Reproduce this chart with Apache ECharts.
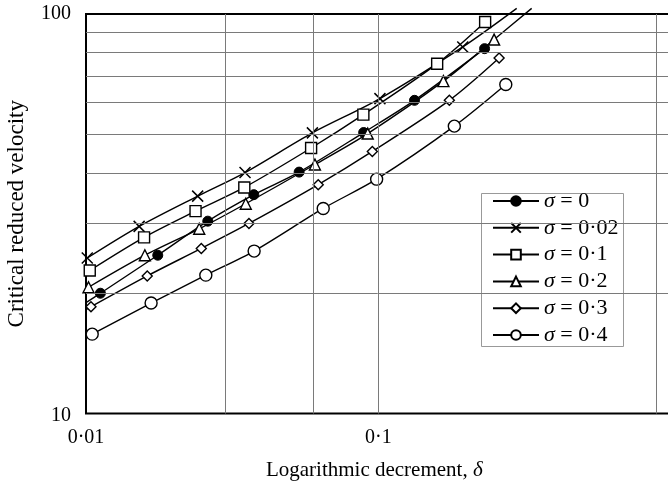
<!DOCTYPE html>
<html>
<head>
<meta charset="utf-8">
<script src="https://cdn.jsdelivr.net/npm/echarts@6/dist/echarts.min.js"></script>
<style>
  html, body { margin: 0; padding: 0; background: #fff; }
  #chart { width: 668px; height: 481px; }
</style>
</head>
<body>
<div id="chart"></div>
<script>
const FONT = '"Liberation Serif", "Times New Roman", serif';

// Logarithmic decrement δ (x) and critical reduced velocity (y) for each σ
const delta0   = [0.0112, 0.0176, 0.0261, 0.0375, 0.0536, 0.0891, 0.133, 0.231];
const vel0     = [20.0, 24.9, 30.3, 35.3, 40.2, 50.5, 60.8, 81.9];
const delta002 = [0.0101, 0.0152, 0.0241, 0.0350, 0.0595, 0.1013, 0.1945];
const vel002   = [24.5, 29.4, 35.0, 40.1, 50.4, 61.4, 82.7];
const delta01  = [0.0103, 0.0158, 0.0237, 0.0348, 0.0589, 0.0889, 0.159, 0.232];
const vel01    = [22.8, 27.6, 32.1, 36.8, 46.2, 56.0, 75.1, 95.5];
const delta02  = [0.0102, 0.0159, 0.0244, 0.0352, 0.0607, 0.0920, 0.167, 0.249];
const vel02    = [20.7, 24.9, 29.0, 33.5, 42.0, 50.2, 67.9, 86.3];
const delta03  = [0.0104, 0.0162, 0.0248, 0.0361, 0.0623, 0.0954, 0.175, 0.259];
const vel03    = [18.5, 22.1, 25.9, 29.9, 37.4, 45.3, 60.8, 77.6];
const delta04  = [0.0105, 0.0167, 0.0257, 0.0376, 0.0648, 0.0987, 0.182, 0.273];
const vel04    = [15.8, 18.9, 22.2, 25.5, 32.6, 38.6, 52.4, 66.6];

// Ends of the fitted curves that run past the plotted points
const lead0   = [0.01, 18.95];
const lead03  = [0.01, 18.2];
const lead04  = [0.01, 15.5];
const tail002 = [0.2975, 103.3];
const tail02  = [0.3347, 103.3];

// Legend labels
const names = ['σ = 0', 'σ = 0·02', 'σ = 0·1', 'σ = 0·2', 'σ = 0·3', 'σ = 0·4'];

// Grid lines
const hGrid = [20, 30, 40, 50, 60, 70, 80, 90];
const vGrid = [0.03, 0.06, 0.1, 0.89];

function curve(xs, ys, lead, tail) {
  const d = xs.map((x, i) => [x, ys[i]]);
  if (lead) d.unshift({ value: lead, symbol: 'none' });
  if (tail) d.push({ value: tail, symbol: 'none' });
  return d;
}

const openMark = { color: '#fff', borderColor: '#000', borderWidth: 1.4 };
function mkSeries(name, data, symbol, size, itemStyle) {
  return {
    name, type: 'line', data, symbol, symbolSize: size,
    smooth: 0.3, clip: false, z: 3,
    lineStyle: { color: '#000', width: 1.4 },
    itemStyle,
    emphasis: { disabled: true }
  };
}

const legendRich = {
  i: { fontFamily: FONT, fontSize: 22, fontStyle: 'italic', color: '#000' },
  r: { fontFamily: FONT, fontSize: 22, color: '#000' }
};

const chart = echarts.init(document.getElementById('chart'), null, { renderer: 'canvas' });

chart.setOption({
  animation: false,
  backgroundColor: '#fff',
  textStyle: { fontFamily: FONT, color: '#000' },
  grid: {
    left: 86, top: 14, width: 584.6, height: 399.5,
    outerBoundsMode: 'none', containLabel: false,
    show: true, borderColor: '#000', borderWidth: 2, backgroundColor: 'transparent'
  },
  xAxis: {
    type: 'log', logBase: 10, min: 0.01, max: 1,
    axisLine: { show: false }, axisTick: { show: false }, splitLine: { show: false },
    axisLabel: {
      color: '#000', fontFamily: FONT, fontSize: 20, margin: 14, showMaxLabel: false,
      formatter: v => {
        const p = Math.round(Math.log10(v));
        return p === -2 ? '0·01' : p === -1 ? '0·1' : '';
      }
    },
    name: 'Logarithmic decrement, {i|δ}',
    nameLocation: 'middle', nameGap: 46,
    nameTextStyle: {
      color: '#000', fontFamily: FONT, fontSize: 21, padding: [0, 8, 0, 0],
      rich: { i: { fontFamily: FONT, fontSize: 21, fontStyle: 'italic', color: '#000' } }
    }
  },
  yAxis: {
    type: 'log', logBase: 10, min: 10, max: 100,
    axisLine: { show: false }, axisTick: { show: false }, splitLine: { show: false },
    axisLabel: {
      color: '#000', fontFamily: FONT, fontSize: 20, margin: 15,
      formatter: v => Math.round(v) === 10 ? '{b|10}' : String(Math.round(v)),
      rich: { b: { fontFamily: FONT, fontSize: 20, color: '#000', padding: [4, 0, 0, 0] } }
    },
    name: 'Critical reduced velocity',
    nameLocation: 'middle', nameGap: 58,
    nameTextStyle: { color: '#000', fontFamily: FONT, fontSize: 23 }
  },
  // Framed white panel behind the legend entries
  graphic: [{
    type: 'rect', z: 2, silent: true,
    shape: { x: 481.5, y: 193.5, width: 142, height: 153 },
    style: { fill: '#fff', stroke: '#999', lineWidth: 1 }
  }],
  legend: {
    data: names,
    orient: 'vertical',
    left: 482, top: 190,
    padding: [0, 8, 0, 10],
    itemWidth: 46, itemHeight: 12, itemGap: 4.8,
    selectedMode: false,
    formatter: n => '{i|σ}{r|' + n.slice(1) + '}',
    textStyle: { fontFamily: FONT, fontSize: 22, color: '#000', rich: legendRich }
  },
  series: [
    {
      name: 'grid', type: 'line', data: [[0.01, 10]], showSymbol: false, z: 1,
      lineStyle: { width: 0 }, silent: true,
      markLine: {
        silent: true, symbol: ['none', 'none'], label: { show: false },
        lineStyle: { color: '#7a7a7a', width: 1, type: 'solid' },
        emphasis: { disabled: true },
        data: hGrid.map(v => ({ yAxis: v })).concat(vGrid.map(v => ({ xAxis: v })))
      }
    },
    mkSeries(names[0], curve(delta0, vel0, lead0), 'circle', 10,
      { color: '#000', borderColor: '#000', borderWidth: 1 }),
    mkSeries(names[1], curve(delta002, vel002, null, tail002), 'path://M0,0L10,10M10,0L0,10', 11,
      { color: '#000', borderColor: '#000', borderWidth: 1.5 }),
    mkSeries(names[2], curve(delta01, vel01), 'rect', 11, openMark),
    mkSeries(names[3], curve(delta02, vel02, null, tail02), 'triangle', 11, openMark),
    mkSeries(names[4], curve(delta03, vel03, lead03), 'diamond', 10, openMark),
    mkSeries(names[5], curve(delta04, vel04, lead04), 'circle', 12, openMark)
  ]
});
</script>
</body>
</html>
